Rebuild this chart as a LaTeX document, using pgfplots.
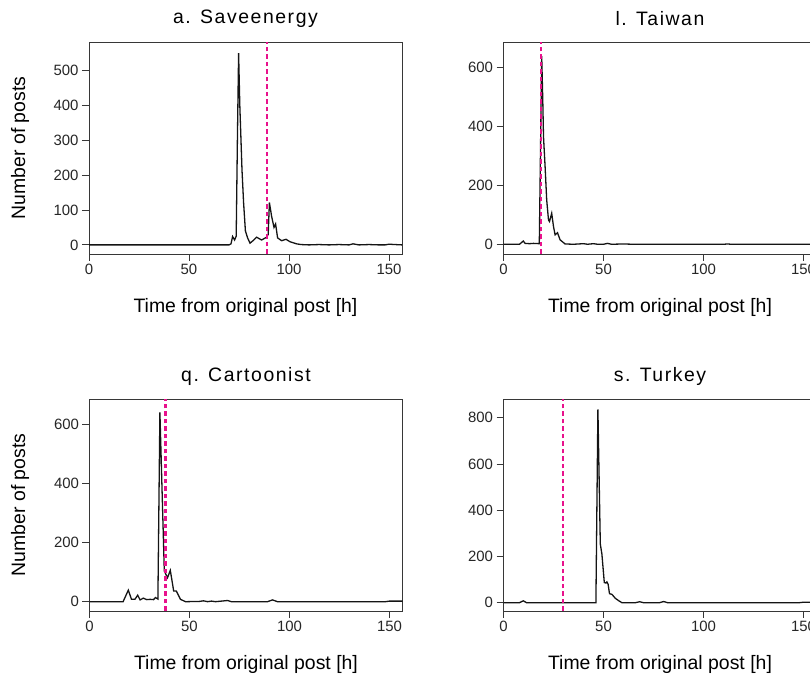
\documentclass[border=0pt]{standalone}
\usepackage{fontspec}
\setmainfont{Liberation Sans}
\usepackage{pgfplots}
\pgfplotsset{compat=1.18}

\definecolor{pinkline}{RGB}{232,18,140}
\definecolor{framegray}{RGB}{55,55,55}

\pgfplotsset{
 panel/.style={
  scale only axis, width=313bp, height=212bp,
  xmin=0, xmax=156.5,
  xtick={0,50,100,150},
  axis line style={framegray, line width=0.8bp},
  every tick/.style={framegray, line width=0.8bp},
  tick align=outside, major tick length=7bp,
  xtick pos=bottom, ytick pos=left,
  ticklabel style={font=\fontsize{15}{17}\selectfont, text=black!85},
  /pgf/number format/assume math mode=true,
  xlabel={Time from original post [h]},
  xlabel style={font=\fontsize{19.5}{21}\selectfont, at={(axis description cs:0.5,0)}, anchor=center, yshift=-53bp},
  title style={font=\fontsize{19.5}{22}\selectfont\addfontfeature{LetterSpace=8}, at={(axis description cs:0.5,1)}, anchor=center, yshift=17bp},
  clip=true,
 },
 evline/.style={draw=pinkline, line width=2.1bp, dash pattern=on 4.5bp off 3bp, mark=none},
 dataline/.style={draw=black!92, line width=1.3bp, mark=none},
}

\begin{document}
\begin{tikzpicture}
% a. Saveenergy
\begin{axis}[panel, at={(89bp,427bp)}, anchor=south west,
  ymin=-26, ymax=580, ytick={0,100,200,300,400,500},
  title={a. Saveenergy}]
\addplot[dataline] coordinates {
(0,0) (70,0) (71,3) (71.8,24) (72.8,14) (73.6,25) (74.2,300) (74.8,548) (75.4,400)
(76.5,214) (77.3,120) (78.2,40) (79.3,20) (80.5,5) (82,12) (83.8,22) (86.3,14)
(88.8,22) (89.6,30) (90.2,121) (91.3,82) (92.5,50) (93.3,60) (94.3,20) (96.3,12)
(98.5,16) (100.5,9) (103.8,3) (106,1) (110,0) (115,1) (120,0) (125,1) (130,0)
(132,3) (135,0) (140,1) (145,0) (148,0) (150,2) (153,1) (156.5,0)};
\addplot[evline] coordinates {(89.2,-26) (89.2,580)};
\end{axis}
% l. Taiwan
\begin{axis}[panel, at={(503.5bp,427bp)}, anchor=south west,
  ymin=-33, ymax=686, ytick={0,200,400,600},
  title={l. Taiwan}]
\addplot[dataline] coordinates {
(0,0) (8,0) (9.9,11) (10.8,3) (13,2) (15,3) (17.9,2) (19.1,638) (19.6,500)
(20,365) (20.8,263) (21.6,150) (22.5,82) (23,77) (24.1,105) (25,60) (25.8,32)
(27,39) (28.3,15) (30.8,1) (35,0) (40,2) (42,0) (45,2) (47,0) (50,0) (52,3)
(54,0) (60,1) (65,0) (110,0) (112,1) (114,0) (156.5,0)};
\addplot[evline] coordinates {(18.6,-33) (18.6,686)};
\end{axis}
% q. Cartoonist
\begin{axis}[panel, at={(89.5bp,70bp)}, anchor=south west,
  ymin=-31.5, ymax=686, ytick={0,200,400,600},
  title={q. Cartoonist}]
\addplot[dataline] coordinates {
(0,0) (16.8,0) (19.4,39) (21,8) (22.7,8) (24.1,22) (25.3,6) (26.9,12) (28.6,7)
(30.3,8) (32,7) (33,14) (34.2,9) (35.2,641) (37.4,104) (39,81) (40.4,106)
(42.1,36) (43.4,36) (45.5,8) (48,0) (55,1) (57,3) (59,0) (61,2) (63,0) (69,4)
(71,0) (89,0) (91.5,6) (94,0) (148,0) (150,2) (156.5,2)};
\addplot[evline] coordinates {(38,-31.5) (38,686)};
\end{axis}
% s. Turkey
\begin{axis}[panel, at={(503.5bp,70bp)}, anchor=south west,
  ymin=-36, ymax=881, ytick={0,200,400,600,800},
  title={s. Turkey}]
\addplot[dataline] coordinates {
(0,0) (8,0) (9.9,8) (11.5,0) (45,0) (46.2,0) (47.2,836) (48.4,254) (49.2,210)
(50.4,87) (51.2,85) (51.7,90) (52.3,80) (53,39) (54.2,36) (55.9,19) (57.5,9)
(59.2,0) (66,0) (68.1,4) (70,0) (78,0) (80.1,5) (82,0) (148,0) (150,2) (156.5,2)};
\addplot[evline] coordinates {(29.8,-36) (29.8,881)};
\end{axis}
\node[rotate=90, font=\fontsize{19.5}{21}\selectfont] at (20bp,533bp) {Number of posts};
\node[rotate=90, font=\fontsize{19.5}{21}\selectfont] at (20bp,176bp) {Number of posts};
\pgfresetboundingbox
\path[use as bounding box] (0,0) rectangle (810bp,681bp);
\end{tikzpicture}
\end{document}
